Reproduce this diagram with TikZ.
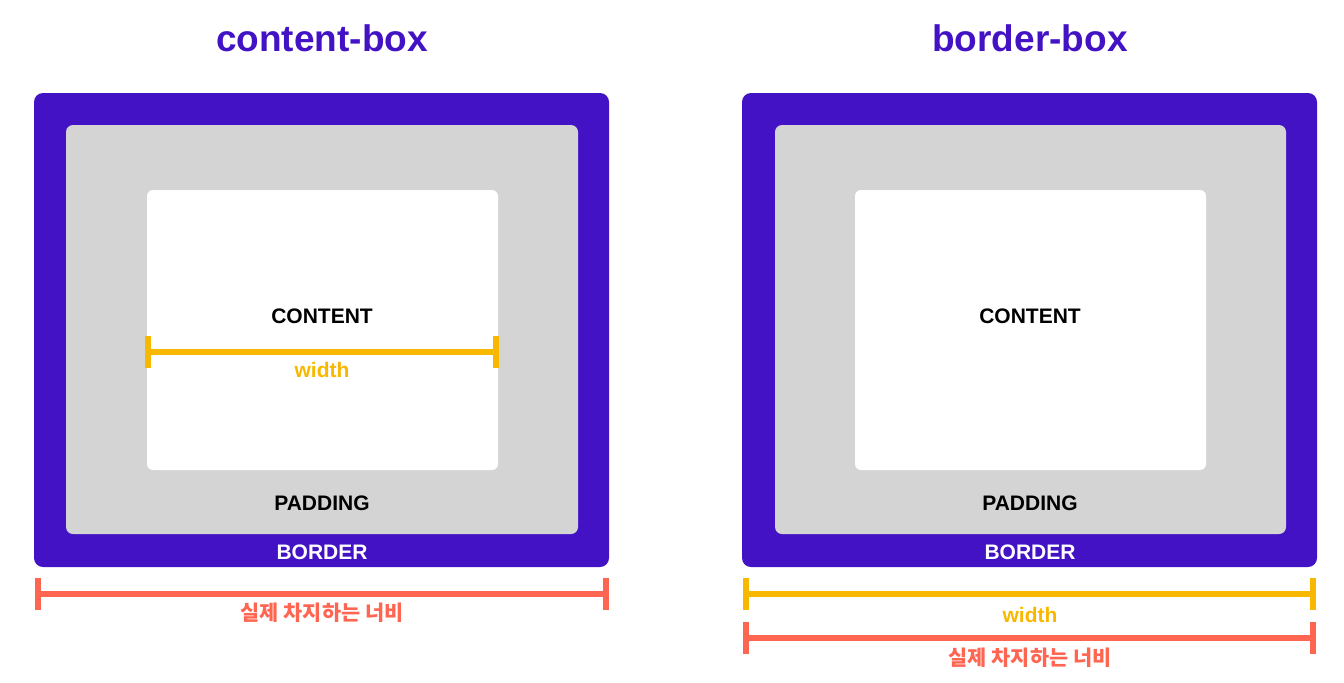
\documentclass[tikz,border=0pt]{standalone}
\usepackage{fontspec}
\setmainfont{Liberation Sans}
\newfontfamily\krfont{Noto Sans CJK KR}
\usetikzlibrary{arrows.meta}

\definecolor{boxpurple}{HTML}{4212C4}
\definecolor{padgray}{HTML}{D4D4D4}
\definecolor{widthyellow}{HTML}{F9B800}
\definecolor{realred}{HTML}{FF6652}

\tikzset{
  title/.style={font=\bfseries\fontsize{18.5}{20}\selectfont, text=boxpurple},
  part/.style={font=\bfseries\fontsize{10.5}{12}\selectfont},
  measure/.style={line width=3pt, {Bar[width=16pt,line width=3pt]}-{Bar[width=16pt,line width=3pt]}},
  kr/.style={font=\krfont\bfseries\fontsize{10.4}{12}\selectfont, text=realred},
}

\begin{document}
\begin{tikzpicture}[x=0.5pt,y=-0.5pt]
\useasboundingbox (0,0) rectangle (1344,682);

% content-box
\node[title] (ctitle) at (322,38) {content-box};
\fill[boxpurple,rounded corners=4.5pt] (34,93) rectangle (609,567); % border
\fill[padgray,rounded corners=3.5pt] (66,125) rectangle (578,534); % padding
\fill[white,rounded corners=3pt] (147,190) rectangle (498,470); % content
\node[part] (ccontent) at (322,316) {CONTENT};
\node[part] (cpadding) at (322,503) {PADDING};
\node[part,text=white] (cborder) at (322,552) {BORDER};

\coordinate (cw1) at (145,352);
\coordinate (cw2) at (499,352);
\draw[measure,widthyellow] (cw1) -- (cw2);
\node[part,text=widthyellow] (cwidth) at (322,370) {width};

\coordinate (cr1) at (35,594);
\coordinate (cr2) at (609,594);
\draw[measure,realred] (cr1) -- (cr2);
\node[kr] (creal) at (322,613) {실제 차지하는 너비};

% border-box
\node[title] (btitle) at (1030,38) {border-box};
\fill[boxpurple,rounded corners=4.5pt] (742,93) rectangle (1317,567); % border
\fill[padgray,rounded corners=3.5pt] (775,125) rectangle (1286,534); % padding
\fill[white,rounded corners=3pt] (855,190) rectangle (1206,470); % content
\node[part] (bcontent) at (1030,316) {CONTENT};
\node[part] (bpadding) at (1030,503) {PADDING};
\node[part,text=white] (bborder) at (1030,552) {BORDER};

\coordinate (bw1) at (743,594);
\coordinate (bw2) at (1316,594);
\draw[measure,widthyellow] (bw1) -- (bw2);
\node[part,text=widthyellow] (bwidth) at (1030,615) {width};

\coordinate (br1) at (743,638);
\coordinate (br2) at (1316,638);
\draw[measure,realred] (br1) -- (br2);
\node[kr] (breal) at (1030,658) {실제 차지하는 너비};
\end{tikzpicture}
\end{document}
